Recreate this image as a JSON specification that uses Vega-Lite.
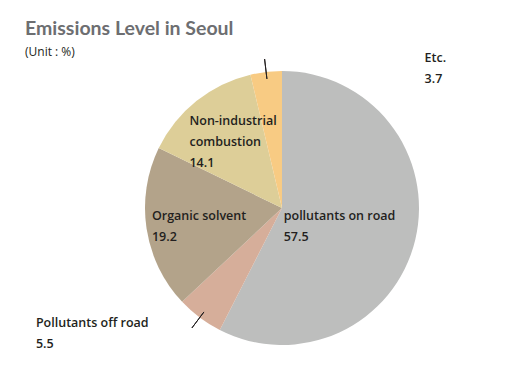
{
  "$schema": "https://vega.github.io/schema/vega-lite/v6.json",
  "width": 476,
  "height": 358,
  "autosize": {"type": "none"},
  "padding": {"left": 44, "top": 29, "right": 0, "bottom": 0},
  "background": "white",
  "title": {
    "text": "Emissions Level in Seoul",
    "subtitle": "(Unit : %)",
    "anchor": "start",
    "frame": "group",
    "dx": -19,
    "offset": -30,
    "font": "Lato",
    "fontSize": 19.5,
    "fontWeight": "bold",
    "color": "#6d6e71",
    "subtitleFont": "Open Sans",
    "subtitleFontSize": 12,
    "subtitleColor": "#231f20",
    "subtitlePadding": 8
  },
  "data": {
    "values": [
      {"cat": "pollutants on road", "label": "pollutants on road", "value": 57.5, "ord": 1},
      {"cat": "Pollutants off road", "label": "Pollutants off road", "value": 5.5, "ord": 2},
      {"cat": "Organic solvent", "label": "Organic solvent", "value": 19.2, "ord": 3},
      {"cat": "Non-industrial combustion", "label": "Non-industrial\ncombustion", "value": 14.1, "ord": 4},
      {"cat": "Etc.", "label": "Etc.", "value": 3.7, "ord": 5}
    ]
  },
  "transform": [{"calculate": "datum.label + '\\n' + datum.value", "as": "txt"}],
  "encoding": {
    "theta": {"field": "value", "type": "quantitative", "stack": true},
    "order": {"field": "ord", "type": "quantitative"}
  },
  "layer": [
    {
      "mark": {"type": "arc", "outerRadius": 137},
      "encoding": {
        "color": {
          "field": "cat",
          "type": "nominal",
          "scale": {
            "domain": ["pollutants on road", "Pollutants off road", "Organic solvent", "Non-industrial combustion", "Etc."],
            "range": ["#bdbebd", "#d6ae9a", "#b3a38a", "#ddce98", "#f8cb83"]
          },
          "legend": null
        }
      }
    },
    {
      "mark": {"type": "arc", "radius": 150, "radius2": 130, "padAngle": 1.5, "filled": false, "stroke": "#231f20", "strokeWidth": 1},
      "encoding": {
        "strokeOpacity": {
          "condition": {"test": "datum.cat === 'Etc.' || datum.cat === 'Pollutants off road'", "value": 1},
          "value": 0
        }
      }
    },
    {
      "mark": {"type": "text", "radius": 10, "dx": -8, "dy": 10, "align": "left", "baseline": "alphabetic", "lineBreak": "\n", "lineHeight": 21, "font": "Open Sans", "fontSize": 12.5, "fontWeight": 600, "fill": "#231f20"},
      "encoding": {"text": {"condition": {"test": "datum.cat === 'pollutants on road'", "field": "txt"}, "value": ""}}
    },
    {
      "mark": {"type": "text", "radius": 80, "dx": -51, "dy": 0, "align": "left", "baseline": "alphabetic", "lineBreak": "\n", "lineHeight": 21, "font": "Open Sans", "fontSize": 12.5, "fontWeight": 600, "fill": "#231f20"},
      "encoding": {"text": {"condition": {"test": "datum.cat === 'Organic solvent'", "field": "txt"}, "value": ""}}
    },
    {
      "mark": {"type": "text", "radius": 100, "dx": -30, "dy": -5, "align": "left", "baseline": "alphabetic", "lineBreak": "\n", "lineHeight": 21, "font": "Open Sans", "fontSize": 12.5, "fontWeight": 600, "fill": "#231f20"},
      "encoding": {"text": {"condition": {"test": "datum.cat === 'Non-industrial combustion'", "field": "txt"}, "value": ""}}
    },
    {
      "mark": {"type": "text", "radius": 150, "dx": 160, "dy": 3, "align": "left", "baseline": "alphabetic", "lineBreak": "\n", "lineHeight": 21, "font": "Open Sans", "fontSize": 12.5, "fontWeight": 600, "fill": "#231f20"},
      "encoding": {"text": {"condition": {"test": "datum.cat === 'Etc.'", "field": "txt"}, "value": ""}}
    },
    {
      "mark": {"type": "text", "radius": 150, "dx": -156, "dy": -1, "align": "left", "baseline": "alphabetic", "lineBreak": "\n", "lineHeight": 21, "font": "Open Sans", "fontSize": 12.5, "fontWeight": 600, "fill": "#231f20"},
      "encoding": {"text": {"condition": {"test": "datum.cat === 'Pollutants off road'", "field": "txt"}, "value": ""}}
    }
  ]
}
